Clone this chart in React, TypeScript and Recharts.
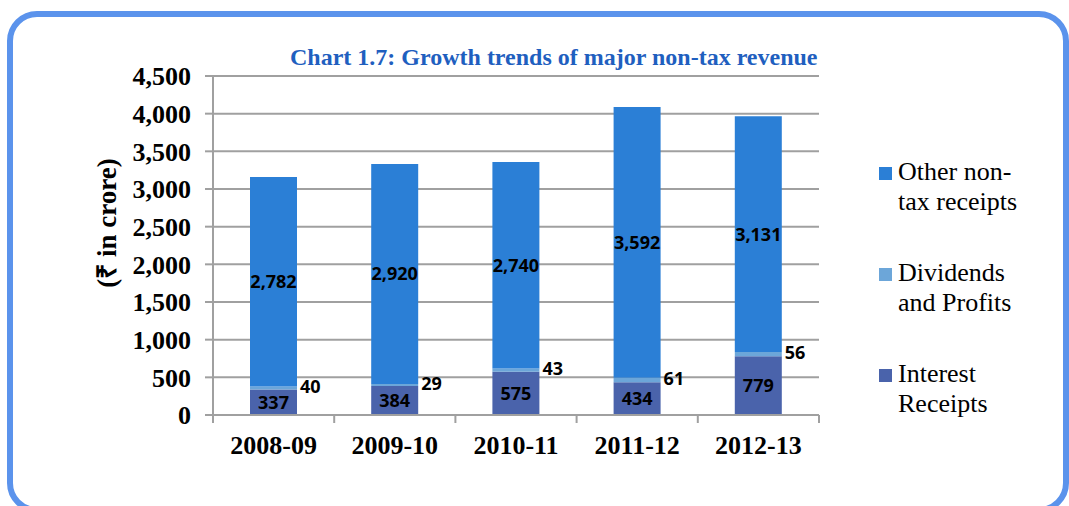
import React from 'react';
import { BarChart, Bar, XAxis, YAxis, CartesianGrid, LabelList } from 'recharts';

const categories = ['2008-09', '2009-10', '2010-11', '2011-12', '2012-13'];
const interestReceipts = [337, 384, 575, 434, 779];
const dividendsProfits = [40, 29, 43, 61, 56];
const otherNonTax = [2782, 2920, 2740, 3592, 3131];
const yTicks = [0, 500, 1000, 1500, 2000, 2500, 3000, 3500, 4000, 4500];

const legendItems = [
  { lines: ['Other non-', 'tax receipts'], color: '#2B7FD6' },
  { lines: ['Dividends', 'and Profits'], color: '#6CA6D9' },
  { lines: ['Interest', 'Receipts'], color: '#4A63AB' },
];

const data = categories.map((year, i) => ({
  year,
  interest: interestReceipts[i],
  dividends: dividendsProfits[i],
  other: otherNonTax[i],
}));

const serif = '"Liberation Serif", "Times New Roman", serif';
const labelFont = '"Open Sans", "Noto Sans", sans-serif';
const gridColor = '#A0A0A0';

const fmt = (v: number) => v.toLocaleString('en-US');

// category label plus the tick marks on the band edges, like Excel draws them
const YearTick = (props: any) => {
  const { x, y, payload, index } = props;
  const half = payload?.offset ?? 0;
  const last = index === categories.length - 1;
  return (
    <g>
      <line x1={x - half} x2={x - half} y1={y} y2={y + 8} stroke={gridColor} strokeWidth={2} />
      {last && <line x1={x + half} x2={x + half} y1={y} y2={y + 8} stroke={gridColor} strokeWidth={2} />}
      <text
        x={x}
        y={y + 21}
        dy="0.71em"
        textAnchor="middle"
        fontFamily={serif}
        fontWeight={700}
        fontSize={26}
        fill="#000"
      >
        {payload.value}
      </text>
    </g>
  );
};

const SideLabel = (props: any) => {
  const { x, y, width, height, value } = props;
  return (
    <text
      x={x + width + 3}
      y={y + height / 2 - 2}
      dominantBaseline="central"
      fontFamily={labelFont}
      fontWeight={700}
      fontSize={18}
      fill="#000"
    >
      {fmt(value)}
    </text>
  );
};

const YLabel = () => (
  <text
    x={107}
    y={223}
    transform="rotate(-90, 107, 223)"
    textAnchor="middle"
    dominantBaseline="central"
    fontFamily={serif}
    fontWeight={700}
    fontSize={27}
    fill="#000"
  >
    (₹ in crore)
  </text>
);

export default function App() {
  return (
    <div style={{ position: 'absolute', left: 0, top: 0, width: 1069, height: 506, overflow: 'hidden', background: '#fff' }}>
      <div
        style={{
          position: 'absolute',
          left: 7,
          top: 11,
          width: 1062,
          height: 502,
          border: '6px solid #5B93EC',
          borderRadius: 30,
          boxSizing: 'border-box',
        }}
      />
      <div
        style={{
          position: 'absolute',
          left: 290,
          top: 43,
          fontFamily: serif,
          fontWeight: 700,
          fontSize: 24,
          lineHeight: '28px',
          color: '#1F5FBF',
          whiteSpace: 'nowrap',
        }}
      >
        Chart 1.7: Growth trends of major non-tax revenue
      </div>
      <div style={{ position: 'absolute', left: 0, top: 0 }}>
        <BarChart width={1069} height={506} data={data} margin={{ top: 76, right: 250, bottom: 51, left: 0 }}>
          <CartesianGrid vertical={false} stroke={gridColor} strokeWidth={2} />
          <XAxis
            dataKey="year"
            height={40}
            axisLine={{ stroke: gridColor, strokeWidth: 2 }}
            tickLine={false}
            tickSize={0}
            tickMargin={0}
            interval={0}
            tick={<YearTick />}
          />
          <YAxis
            width={213}
            domain={[0, 4500]}
            ticks={yTicks}
            interval={0}
            tickFormatter={fmt}
            tickSize={8}
            tickMargin={14}
            axisLine={{ stroke: gridColor, strokeWidth: 2 }}
            tickLine={{ stroke: gridColor, strokeWidth: 2 }}
            tick={{ fontFamily: serif, fontWeight: 700, fontSize: 26, fill: '#000' }}
            label={<YLabel />}
          />
          <Bar dataKey="interest" stackId="a" fill="#4A63AB" barSize={47} isAnimationActive={false}>
            <LabelList
              dataKey="interest"
              position="center"
              formatter={(v: any) => fmt(v)}
              fill="#000"
              fontFamily={labelFont}
              fontWeight={700}
              fontSize={18}
            />
          </Bar>
          <Bar dataKey="dividends" stackId="a" fill="#6CA6D9" barSize={47} isAnimationActive={false}>
            <LabelList dataKey="dividends" content={<SideLabel />} />
          </Bar>
          <Bar dataKey="other" stackId="a" fill="#2B7FD6" barSize={47} isAnimationActive={false}>
            <LabelList
              dataKey="other"
              position="center"
              formatter={(v: any) => fmt(v)}
              fill="#000"
              fontFamily={labelFont}
              fontWeight={700}
              fontSize={18}
            />
          </Bar>
        </BarChart>
      </div>
      <div style={{ position: 'absolute', left: 879, top: 157 }}>
        {legendItems.map((item, i) => (
          <div key={i} style={{ position: 'relative', height: 101 }}>
            <div style={{ position: 'absolute', left: 0, top: 10, width: 13, height: 13, background: item.color }} />
            <div
              style={{
                position: 'absolute',
                left: 19,
                top: 0,
                fontFamily: serif,
                fontSize: 26,
                lineHeight: '30px',
                color: '#000',
                whiteSpace: 'nowrap',
              }}
            >
              {item.lines.map((l, j) => (
                <div key={j}>{l}</div>
              ))}
            </div>
          </div>
        ))}
      </div>
    </div>
  );
}
